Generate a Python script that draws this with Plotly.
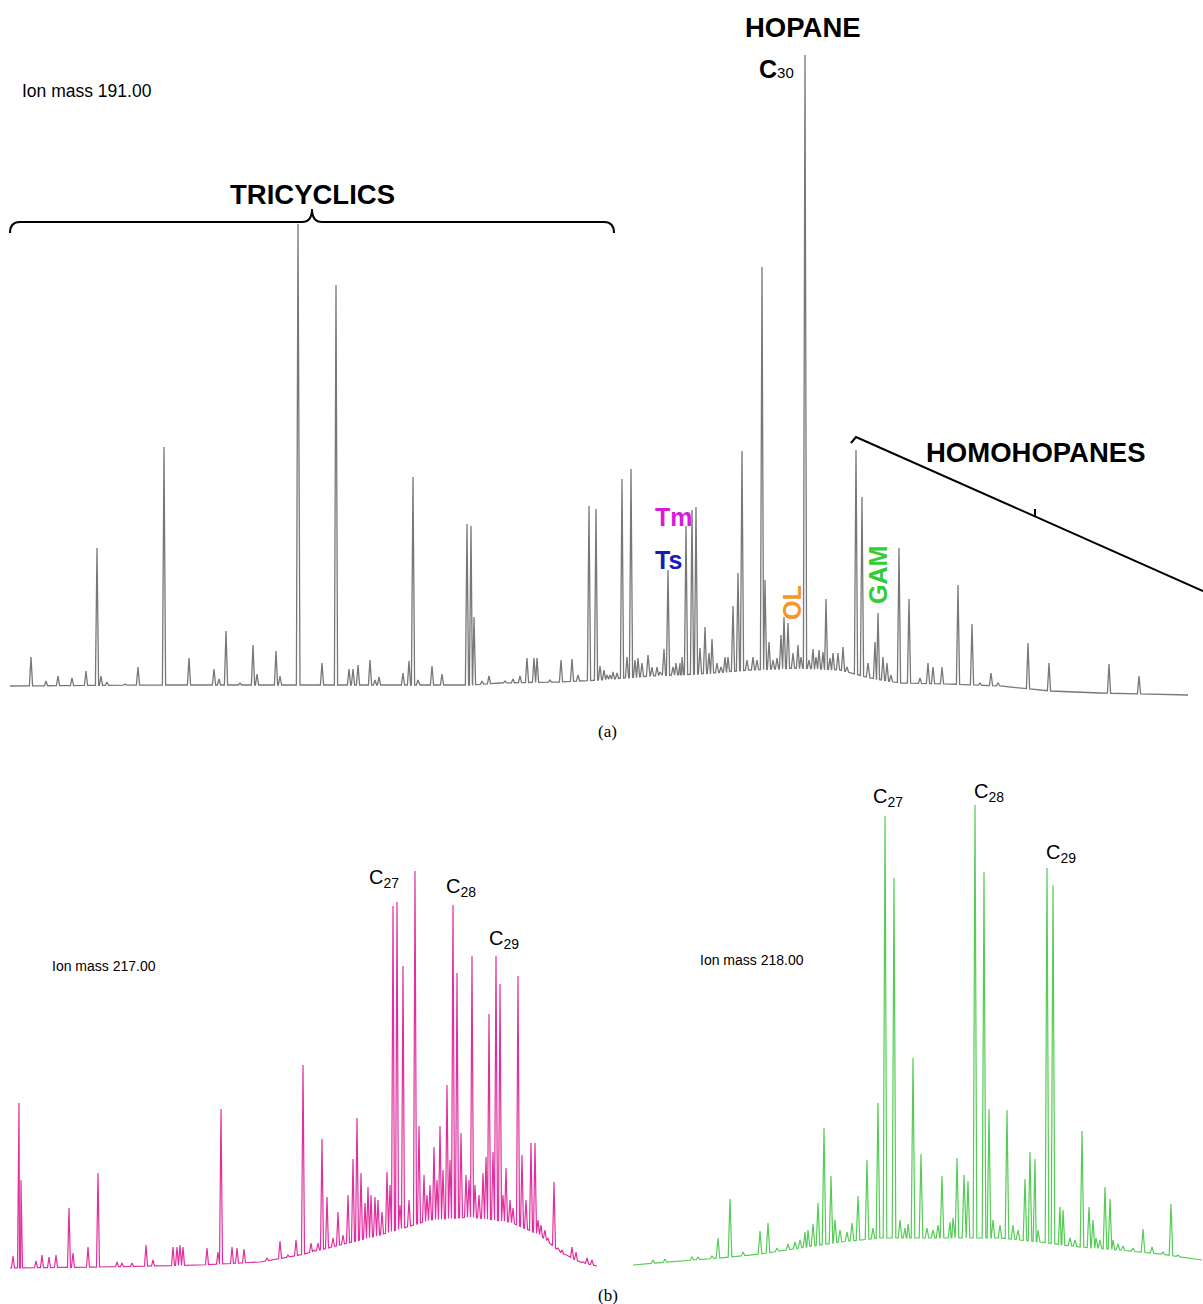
import numpy as np
import plotly.graph_objects as go

W, H = 1203, 1304

# ---------------- m/z 191 (gray, panel a) ----------------
mz191_peak_rt = [31, 46, 58, 72, 86, 97, 101, 107, 125, 138, 164, 189, 214, 219, 226, 240, 253, 257, 276, 280,
                 298, 322, 336, 349, 353, 358, 370, 375, 379, 403, 409, 413, 418, 432, 442, 467, 471, 474, 482, 489,
                 505, 513, 520, 527, 534, 537, 550, 555, 561, 572, 578, 589, 596, 600, 604, 607, 610, 613, 617, 622,
                 627, 631, 635, 638, 642, 648, 652, 657, 660, 664, 668, 673, 676, 680, 682, 686, 692, 696, 700, 705,
                 709, 712, 717, 721, 725, 728, 733, 738, 742, 747, 753, 757, 762, 765, 769, 773, 777, 781, 784, 788,
                 793, 798, 801, 805, 809, 813, 816, 819, 823, 826, 830, 833, 838, 843, 847, 856, 862, 868, 875, 878,
                 883, 887, 891, 899, 909, 920, 928, 933, 942, 958, 972, 980, 991, 998, 1028, 1049, 1109, 1139]
mz191_peak_int = [43, 19, 24, 22, 29, 152, 24, 18, 16, 33, 253, 42, 31, 21, 69, 17, 55, 26, 49, 24,
                  476, 37, 415, 31, 31, 35, 40, 20, 23, 27, 39, 223, 20, 34, 26, 176, 174, 83, 19, 24,
                  19, 21, 24, 42, 42, 42, 20, 18, 40, 41, 25, 194, 191, 34, 30, 25, 25, 28, 27, 221,
                  43, 231, 40, 42, 37, 45, 33, 33, 28, 51, 130, 33, 37, 37, 43, 174, 190, 193, 52, 73,
                  47, 61, 37, 33, 43, 43, 94, 127, 249, 40, 43, 40, 433, 120, 58, 40, 42, 65, 83, 77,
                  47, 55, 43, 645, 40, 51, 43, 50, 48, 101, 42, 47, 47, 53, 33, 250, 203, 37, 58, 87,
                  43, 37, 25, 152, 101, 22, 37, 33, 33, 115, 76, 17, 27, 17, 57, 37, 36, 24]
mz191_base_rt = [10, 150, 300, 420, 470, 500, 560, 600, 650, 700, 750, 800, 840, 870, 900, 950, 1000, 1050, 1100, 1188]
mz191_base_int = [14, 15, 15, 15, 15, 17, 18, 20, 24, 26, 30, 32, 30, 22, 17, 16, 14, 9, 7, 5]

# ---------------- m/z 217 (magenta, panel b left) ----------------
mz217_peak_rt = [13, 19, 21, 36, 42, 49, 56, 69, 73, 88, 98, 117, 122, 132, 146, 153, 173, 177, 180, 183,
                 207, 218, 221, 232, 237, 244, 267, 280, 288, 296, 303, 311, 314, 318, 322, 327, 333, 338, 343, 348,
                 353, 357, 361, 365, 368, 371, 375, 378, 382, 387, 390, 393, 397, 400, 403, 409, 415, 419, 424, 427,
                 430, 434, 437, 440, 443, 447, 450, 453, 457, 461, 466, 469, 472, 475, 479, 483, 486, 489, 493, 496,
                 500, 503, 506, 510, 513, 518, 522, 526, 531, 535, 538, 541, 545, 548, 554, 558, 562, 567, 572, 576,
                 583, 587, 592]
mz217_peak_int = [24, 177, 100, 19, 25, 23, 25, 72, 27, 33, 107, 18, 17, 17, 35, 20, 33, 33, 35, 33,
                  32, 28, 171, 33, 32, 31, 22, 39, 25, 40, 215, 37, 30, 37, 141, 83, 42, 68, 45, 85,
                  121, 162, 107, 77, 93, 85, 83, 80, 68, 108, 95, 374, 378, 75, 314, 80, 409, 154, 105, 85,
                  95, 133, 100, 154, 110, 195, 120, 375, 307, 147, 105, 100, 324, 95, 85, 107, 123, 266, 128, 324,
                  296, 85, 112, 80, 72, 304, 125, 80, 137, 137, 60, 55, 50, 42, 98, 32, 30, 25, 33, 28,
                  18, 22, 20]
mz217_base_rt = [10, 100, 200, 260, 300, 340, 380, 430, 470, 510, 540, 560, 580, 597]
mz217_base_int = [12, 13, 15, 18, 25, 35, 45, 60, 63, 58, 45, 28, 18, 14]

# ---------------- m/z 218 (green, panel b right) ----------------
mz218_peak_rt = [653, 665, 675, 692, 698, 712, 718, 730, 743, 760, 768, 777, 788, 795, 800, 805, 808, 813, 818, 824,
                 831, 835, 840, 847, 852, 858, 867, 873, 878, 885, 894, 900, 905, 908, 913, 921, 927, 933, 938, 942,
                 950, 953, 957, 964, 968, 975, 984, 989, 993, 1000, 1007, 1013, 1018, 1025, 1030, 1035, 1038, 1047, 1053, 1060,
                 1063, 1070, 1075, 1082, 1089, 1093, 1096, 1100, 1105, 1110, 1113, 1118, 1123, 1133, 1143, 1152, 1163, 1171, 1178]
mz218_peak_int = [20, 21, 19, 23, 23, 24, 42, 81, 28, 49, 57, 32, 36, 38, 40, 48, 50, 56, 77, 152,
                  104, 60, 50, 48, 57, 84, 120, 52, 177, 464, 402, 60, 52, 56, 222, 126, 52, 50, 55, 104,
                  58, 62, 122, 105, 99, 475, 408, 171, 60, 55, 170, 55, 50, 101, 128, 121, 50, 412, 395, 73,
                  70, 42, 40, 149, 73, 60, 42, 40, 93, 81, 40, 36, 34, 32, 51, 33, 28, 76, 25]
mz218_base_rt = [633, 680, 720, 760, 800, 840, 880, 920, 960, 1000, 1040, 1080, 1120, 1160, 1202]
mz218_base_int = [15, 19, 22, 26, 32, 38, 42, 42, 42, 42, 38, 33, 30, 26, 20]


def build_trace(px, py, bx, by, hw):
    pts = []
    for x, y in zip(px, py):
        pts.append((x - hw, float(np.interp(x - hw, bx, by))))
        pts.append((x, y))
        pts.append((x + hw, float(np.interp(x + hw, bx, by))))
    for x, y in zip(bx, by):
        if all(abs(x - p) > hw for p in px):
            pts.append((x, y))
    pts.sort(key=lambda t: t[0])
    return [p[0] for p in pts], [p[1] for p in pts]


x191, y191 = build_trace(mz191_peak_rt, mz191_peak_int, mz191_base_rt, mz191_base_int, 1.6)
x217, y217 = build_trace(mz217_peak_rt, mz217_peak_int, mz217_base_rt, mz217_base_int, 1.5)
x218, y218 = build_trace(mz218_peak_rt, mz218_peak_int, mz218_base_rt, mz218_base_int, 1.8)

fig = go.Figure()
fig.add_trace(go.Scatter(x=x191, y=y191, mode="lines", line=dict(color="#787878", width=1.3),
                         xaxis="x", yaxis="y", hoverinfo="skip", showlegend=False))
fig.add_trace(go.Scatter(x=x217, y=y217, mode="lines", line=dict(color="#e0309e", width=1.2),
                         xaxis="x2", yaxis="y2", hoverinfo="skip", showlegend=False))
fig.add_trace(go.Scatter(x=x218, y=y218, mode="lines", line=dict(color="#55cc55", width=1.2),
                         xaxis="x3", yaxis="y3", hoverinfo="skip", showlegend=False))

hidden = dict(visible=False, showgrid=False, zeroline=False, fixedrange=True)
top_dom = [1 - 700 / H, 1 - 40 / H]
bot_dom = [1 - 1280 / H, 1 - 760 / H]

fig.update_layout(
    width=W, height=H,
    margin=dict(l=0, r=0, t=0, b=0),
    paper_bgcolor="white", plot_bgcolor="white",
    font=dict(family="Arial, Liberation Sans, sans-serif", color="black"),
    xaxis=dict(domain=[0, 1], range=[0, 1203], anchor="y", **hidden),
    yaxis=dict(domain=top_dom, range=[0, 660], anchor="x", **hidden),
    xaxis2=dict(domain=[0, 0.5], range=[0, 601.5], anchor="y2", **hidden),
    yaxis2=dict(domain=bot_dom, range=[0, 520], anchor="x2", **hidden),
    xaxis3=dict(domain=[0.5, 1], range=[601.5, 1203], anchor="y3", **hidden),
    yaxis3=dict(domain=bot_dom, range=[0, 520], anchor="x3", **hidden),
)


def px(x):
    return x / W


def py(y):
    return 1 - y / H


def ann(text, x, y, size, color="black", xanchor="center", angle=0, family="Arial, Liberation Sans, sans-serif"):
    fig.add_annotation(text=text, x=px(x), y=py(y), xref="paper", yref="paper", showarrow=False,
                       xanchor=xanchor, yanchor="middle", textangle=angle,
                       font=dict(size=size, color=color, family=family))


ann("Ion mass 191.00", 20, 91, 17.5, xanchor="left")
ann("<b>TRICYCLICS</b>", 312, 194, 27.5)
ann("<b>HOPANE</b>", 803, 27, 27.5)
ann("<b>C</b><span style='font-size:15px'>30</span>", 796, 69, 25, xanchor="right")
ann("<b>Tm</b>", 653, 517, 25, color="#d91ad9", xanchor="left")
ann("<b>Ts</b>", 653, 560, 25, color="#1a1ab8", xanchor="left")
ann("<b>OL</b>", 792, 603, 25, color="#f7962a", angle=-90)
ann("<b>GAM</b>", 878, 575, 25, color="#33cc33", angle=-90)
ann("<b>HOMOHOPANES</b>", 1036, 452, 27.5)
ann("(a)", 607, 731, 17, family="Times New Roman, Liberation Serif, serif")
ann("(b)", 608, 1295, 17, family="Times New Roman, Liberation Serif, serif")
ann("Ion mass 217.00", 50, 966, 14, xanchor="left")
ann("Ion mass 218.00", 698, 960, 14, xanchor="left")
ann("C<sub>27</sub>", 384, 878, 20)
ann("C<sub>28</sub>", 461, 888, 20)
ann("C<sub>29</sub>", 504, 940, 20)
ann("C<sub>27</sub>", 888, 797, 20)
ann("C<sub>28</sub>", 989, 792, 20)
ann("C<sub>29</sub>", 1061, 853, 20)


def P(x, y):
    return f"{px(x):.5f},{py(y):.5f}"


brace = ("M " + P(10, 233) + " Q " + P(10, 222) + " " + P(20, 222) + " L " + P(302, 222) +
         " Q " + P(312, 222) + " " + P(312, 209) + " Q " + P(312, 222) + " " + P(322, 222) +
         " L " + P(604, 222) + " Q " + P(614, 222) + " " + P(614, 233))
fig.add_shape(type="path", path=brace, xref="paper", yref="paper", line=dict(color="black", width=2))
homo = "M " + P(851, 443) + " L " + P(856, 437) + " L " + P(1203, 591)
fig.add_shape(type="path", path=homo, xref="paper", yref="paper", line=dict(color="black", width=2))
tick = "M " + P(1035, 517) + " L " + P(1035, 509)
fig.add_shape(type="path", path=tick, xref="paper", yref="paper", line=dict(color="black", width=2))

fig.write_html("out.html", config={"displayModeBar": False, "staticPlot": True},
               post_script="document.body.style.margin='0px';document.body.style.overflow='hidden';")
